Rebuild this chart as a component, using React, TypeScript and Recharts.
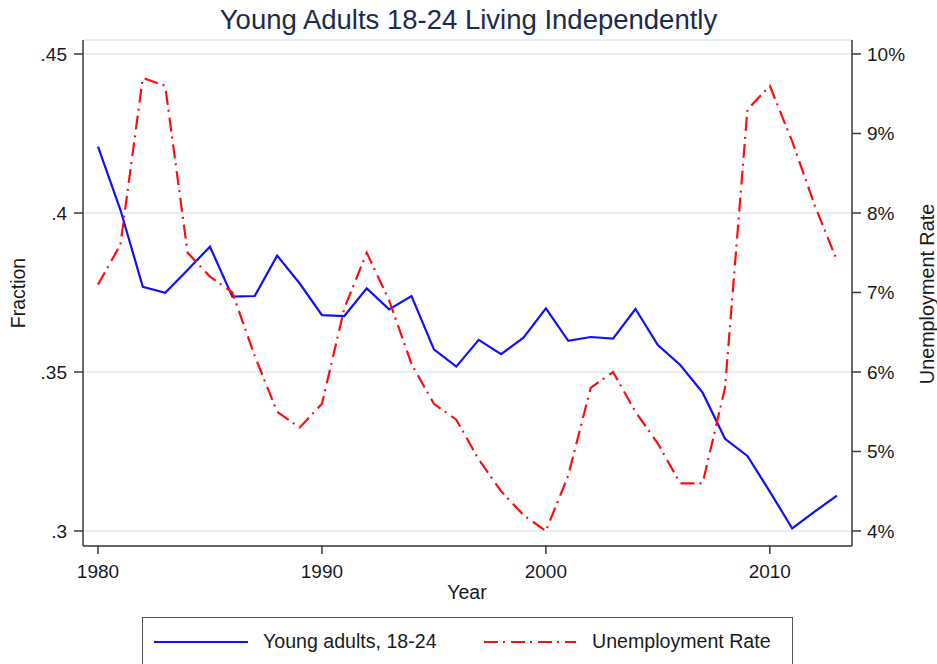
import React from 'react';
import { LineChart, Line, XAxis, YAxis, CartesianGrid } from 'recharts';

const years = [1980, 1981, 1982, 1983, 1984, 1985, 1986, 1987, 1988, 1989, 1990, 1991, 1992, 1993, 1994, 1995, 1996, 1997, 1998, 1999, 2000, 2001, 2002, 2003, 2004, 2005, 2006, 2007, 2008, 2009, 2010, 2011, 2012, 2013];
const youngAdults = [0.4209, 0.401, 0.3768, 0.3749, 0.3821, 0.3894, 0.3737, 0.3739, 0.3866, 0.3779, 0.3679, 0.3676, 0.3763, 0.3697, 0.3739, 0.3571, 0.3517, 0.3601, 0.3556, 0.3608, 0.37, 0.3598, 0.361, 0.3605, 0.3698, 0.3585, 0.3522, 0.3435, 0.329, 0.3236, 0.3124, 0.3008, 0.3061, 0.3111];
const unemployment = [7.1, 7.6, 9.7, 9.6, 7.5, 7.2, 7.0, 6.2, 5.5, 5.3, 5.6, 6.8, 7.5, 6.9, 6.1, 5.6, 5.4, 4.9, 4.5, 4.2, 4.0, 4.7, 5.8, 6.0, 5.5, 5.1, 4.6, 4.6, 5.8, 9.3, 9.6, 8.9, 8.1, 7.4];
const xTicks = [1980, 1990, 2000, 2010];
const leftTicks = [0.3, 0.35, 0.4, 0.45];
const rightTicks = [4, 5, 6, 7, 8, 9, 10];

const data = years.map((y, i) => ({ year: y, young: youngAdults[i], unemp: unemployment[i] }));

const FONT = '"Liberation Sans", Arial, Helvetica, sans-serif';
const BLUE = '#1010ff';
const RED = '#ff0d0d';
const AXIS = '#3a3a3a';
const DASH = '14 5 2 6';

const tickStyle = { fontSize: 19, fill: '#1a1a1a', fontFamily: FONT };

export default function App() {
  return (
    <div style={{ position: 'absolute', left: 0, top: 0, width: 937, height: 664, background: '#fff', fontFamily: FONT, overflow: 'hidden' }}>
      <div style={{ position: 'absolute', left: 0, top: 6, width: 937, textAlign: 'center', fontSize: 27.5, lineHeight: '27px', color: '#1c2a4d' }}>
        Young Adults 18-24 Living Independently
      </div>
      <LineChart width={937} height={664} data={data} margin={{ top: 40, right: 25, bottom: 78, left: 23 }}>
        <CartesianGrid yAxisId="left" vertical={false} horizontal={true} stroke="#e5eef0" strokeWidth={2} />
        <XAxis
          dataKey="year"
          type="number"
          domain={[1979.33, 2013.67]}
          allowDataOverflow
          ticks={xTicks}
          height={40}
          tick={tickStyle}
          tickSize={8}
          tickMargin={11}
          axisLine={{ stroke: AXIS, strokeWidth: 1.5 }}
          tickLine={{ stroke: AXIS, strokeWidth: 1.5 }}
        />
        <YAxis
          yAxisId="left"
          orientation="left"
          width={60}
          type="number"
          domain={[0.29528, 0.4544]}
          allowDataOverflow
          ticks={leftTicks}
          tickFormatter={(v: number) => String(v).replace(/^0/, '')}
          tick={tickStyle}
          tickSize={9}
          tickMargin={7}
          axisLine={{ stroke: AXIS, strokeWidth: 1.5 }}
          tickLine={{ stroke: AXIS, strokeWidth: 1.5 }}
        />
        <YAxis
          yAxisId="right"
          orientation="right"
          width={60}
          type="number"
          domain={[3.811, 10.176]}
          allowDataOverflow
          ticks={rightTicks}
          tickFormatter={(v: number) => `${v}%`}
          tick={tickStyle}
          tickSize={9}
          tickMargin={6}
          axisLine={{ stroke: AXIS, strokeWidth: 1.5 }}
          tickLine={{ stroke: AXIS, strokeWidth: 1.5 }}
        />
        <Line yAxisId="left" type="linear" dataKey="young" stroke={BLUE} strokeWidth={2.2} dot={false} isAnimationActive={false} />
        <Line yAxisId="right" type="linear" dataKey="unemp" stroke={RED} strokeWidth={2.2} strokeDasharray={DASH} dot={false} isAnimationActive={false} />
      </LineChart>
      <div style={{ position: 'absolute', left: 18, top: 293, transform: 'translate(-50%, -50%) rotate(-90deg)', fontSize: 19.5, lineHeight: '19px', whiteSpace: 'nowrap', color: '#1a1a1a' }}>
        Fraction
      </div>
      <div style={{ position: 'absolute', left: 927, top: 294, transform: 'translate(-50%, -50%) rotate(-90deg)', fontSize: 19.8, lineHeight: '19px', whiteSpace: 'nowrap', color: '#1a1a1a' }}>
        Unemployment Rate
      </div>
      <div style={{ position: 'absolute', left: 367, width: 200, top: 583, textAlign: 'center', fontSize: 19.5, lineHeight: '19px', color: '#1a1a1a' }}>
        Year
      </div>
      <div style={{ position: 'absolute', left: 142, top: 617, width: 651, height: 60, border: '1.5px solid #555', boxSizing: 'border-box' }}>
        <svg width={650} height={48} style={{ position: 'absolute', left: 0, top: 0 }}>
          <line x1={11} x2={105} y1={24} y2={24} stroke={BLUE} strokeWidth={2.2} />
          <line x1={341} x2={433} y1={24} y2={24} stroke={RED} strokeWidth={2.2} strokeDasharray={DASH} />
        </svg>
        <div style={{ position: 'absolute', left: 120, top: 14, fontSize: 19.6, lineHeight: '19px', whiteSpace: 'nowrap', color: '#1a1a1a' }}>
          Young adults, 18-24
        </div>
        <div style={{ position: 'absolute', left: 449, top: 14, fontSize: 19.6, lineHeight: '19px', whiteSpace: 'nowrap', color: '#1a1a1a' }}>
          Unemployment Rate
        </div>
      </div>
    </div>
  );
}
